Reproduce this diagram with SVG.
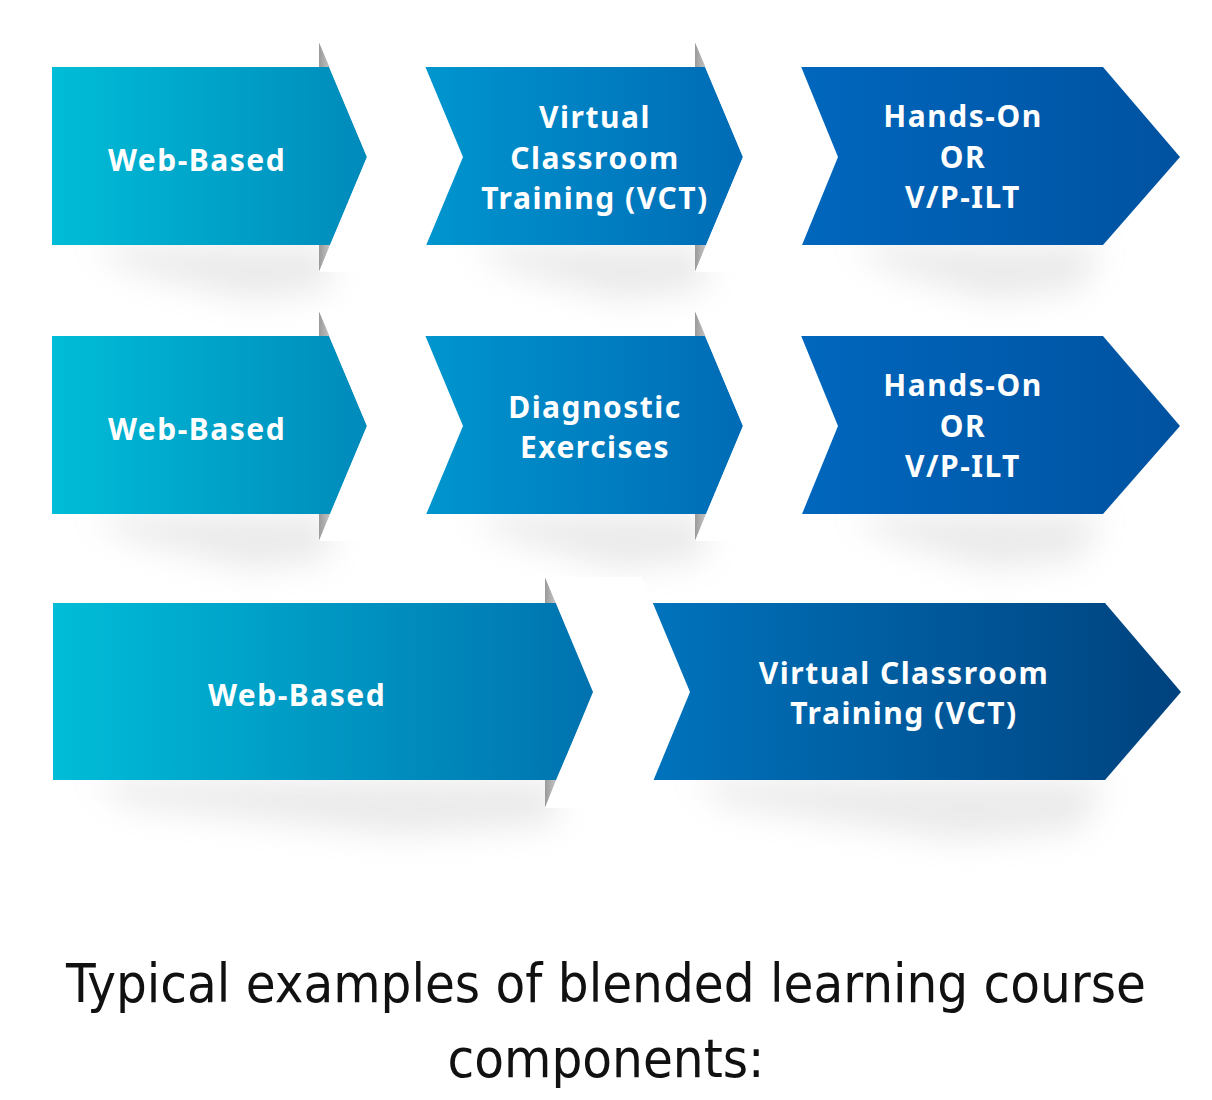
<svg xmlns="http://www.w3.org/2000/svg" width="1212" height="1100" viewBox="0 0 1212 1100">
  <style>
    .lbl { font-family: "Noto Sans", "Open Sans", sans-serif; font-weight: 700; font-size: 30px; fill: #ffffff; text-anchor: middle; letter-spacing: 1.5px; }
    .title { font-family: "Liberation Sans Narrow", "DejaVu Sans Condensed", "Liberation Sans", sans-serif; font-size: 54px; fill: #111111; text-anchor: middle; }
    .chev { fill: #ffffff; }
    .fold { fill: url(#gfold); }
    .shadow { fill: #9a9a9a; opacity: 0.2; filter: url(#blur); }
  </style>
  <defs>
    <linearGradient id="g1" x1="0" y1="0" x2="1" y2="0">
      <stop offset="0" stop-color="#00BDD7"/>
      <stop offset="1" stop-color="#008ABB"/>
    </linearGradient>
    <linearGradient id="g2" x1="0" y1="0" x2="1" y2="0">
      <stop offset="0" stop-color="#0099D0"/>
      <stop offset="1" stop-color="#006BB6"/>
    </linearGradient>
    <linearGradient id="g3" x1="0" y1="0" x2="1" y2="0">
      <stop offset="0" stop-color="#0068BF"/>
      <stop offset="1" stop-color="#0052A0"/>
    </linearGradient>
    <linearGradient id="g4" x1="0" y1="0" x2="1" y2="0">
      <stop offset="0" stop-color="#00BDD7"/>
      <stop offset="1" stop-color="#0072AF"/>
    </linearGradient>
    <linearGradient id="g5" x1="0" y1="0" x2="1" y2="0">
      <stop offset="0" stop-color="#0076C0"/>
      <stop offset="1" stop-color="#00427E"/>
    </linearGradient>
    <linearGradient id="gfold" x1="0" y1="0" x2="1" y2="0">
      <stop offset="0" stop-color="#9a9a9a"/>
      <stop offset="1" stop-color="#c4c4c4"/>
    </linearGradient>
    <filter id="blur" x="-20%" y="-80%" width="140%" height="260%">
      <feGaussianBlur stdDeviation="16"/>
    </filter>
  </defs>

  <!-- shadows -->
  <g id="shadows">
    <polygon class="shadow" points="90,245 330,245 330,290 250,300 130,270"/>
    <polygon class="shadow" points="470,245 705,245 705,290 620,300 510,270"/>
    <polygon class="shadow" points="850,245 1103,245 1080,290 990,300 890,270"/>
    <polygon class="shadow" points="90,514 330,514 330,559 250,569 130,539"/>
    <polygon class="shadow" points="470,514 705,514 705,559 620,569 510,539"/>
    <polygon class="shadow" points="850,514 1103,514 1080,559 990,569 890,539"/>
    <polygon class="shadow" points="90,780 556,780 556,825 400,835 130,805"/>
    <polygon class="shadow" points="690,780 1105,780 1080,830 960,840 730,805"/>
  </g>

  <!-- row 1 -->
  <g id="r1s1"><polygon fill="url(#g1)" points="52,67 329,67 367,157 330,245 52,245"/><text class="lbl" x="197" y="171">Web-Based</text></g>
  <g id="r1s2"><polygon fill="url(#g2)" points="400,67 705,67 743,157 706,245 400,245"/>
    <text class="lbl" x="595" y="128">Virtual</text><text class="lbl" x="595" y="169">Classroom</text><text class="lbl" x="595" y="209">Training (VCT)</text></g>
  <g id="r1s3"><polygon fill="url(#g3)" points="780,67 1103,67 1180,157 1103,245 780,245"/>
    <text class="lbl" x="963" y="127">Hands-On</text><text class="lbl" x="963" y="168">OR</text><text class="lbl" x="963" y="208">V/P-ILT</text></g>

  <!-- row 2 -->
  <g id="r2s1"><polygon fill="url(#g1)" points="52,336 329,336 367,426 330,514 52,514"/><text class="lbl" x="197" y="440">Web-Based</text></g>
  <g id="r2s2"><polygon fill="url(#g2)" points="400,336 705,336 743,426 706,514 400,514"/>
    <text class="lbl" x="595" y="418">Diagnostic</text><text class="lbl" x="595" y="458">Exercises</text></g>
  <g id="r2s3"><polygon fill="url(#g3)" points="780,336 1103,336 1180,426 1103,514 780,514"/>
    <text class="lbl" x="963" y="396">Hands-On</text><text class="lbl" x="963" y="437">OR</text><text class="lbl" x="963" y="477">V/P-ILT</text></g>

  <!-- row 3 -->
  <g id="r3s1"><polygon fill="url(#g4)" points="53,603 556,603 594,692 556,780 53,780"/><text class="lbl" x="297" y="706">Web-Based</text></g>
  <g id="r3s2"><polygon fill="url(#g5)" points="620,603 1105,603 1181,692 1105,780 620,780"/>
    <text class="lbl" x="904" y="684">Virtual Classroom</text><text class="lbl" x="904" y="724">Training (VCT)</text></g>

  <!-- chevron separators -->
  <g id="connectors">
    <polygon class="fold" points="319,42 330,67 319,67"/>
    <polygon class="fold" points="319,245 330,245 319,272"/>
    <polygon class="chev" points="319,42 415,42 463,157 415,272 319,272 367,157"/>
    <polygon class="fold" points="695,42 706,67 695,67"/>
    <polygon class="fold" points="695,245 706,245 695,272"/>
    <polygon class="chev" points="695,42 791,42 838,157 791,272 695,272 743,157"/>
    <polygon class="fold" points="319,311 330,336 319,336"/>
    <polygon class="fold" points="319,514 330,514 319,541"/>
    <polygon class="chev" points="319,311 415,311 463,426 415,541 319,541 367,426"/>
    <polygon class="fold" points="695,311 706,336 695,336"/>
    <polygon class="fold" points="695,514 706,514 695,541"/>
    <polygon class="chev" points="695,311 791,311 838,426 791,541 695,541 743,426"/>
    <polygon class="fold" points="545,577 556,603 545,603"/>
    <polygon class="fold" points="545,780 556,780 545,808"/>
    <polygon class="chev" points="545,577 642,577 690,692 642,808 545,808 593,692"/>
  </g>

  <g id="title">
    <text class="title" x="606" y="1002" textLength="1080" lengthAdjust="spacingAndGlyphs">Typical examples of blended learning course</text>
    <text class="title" x="606" y="1077" textLength="317" lengthAdjust="spacingAndGlyphs">components:</text>
  </g>
</svg>
